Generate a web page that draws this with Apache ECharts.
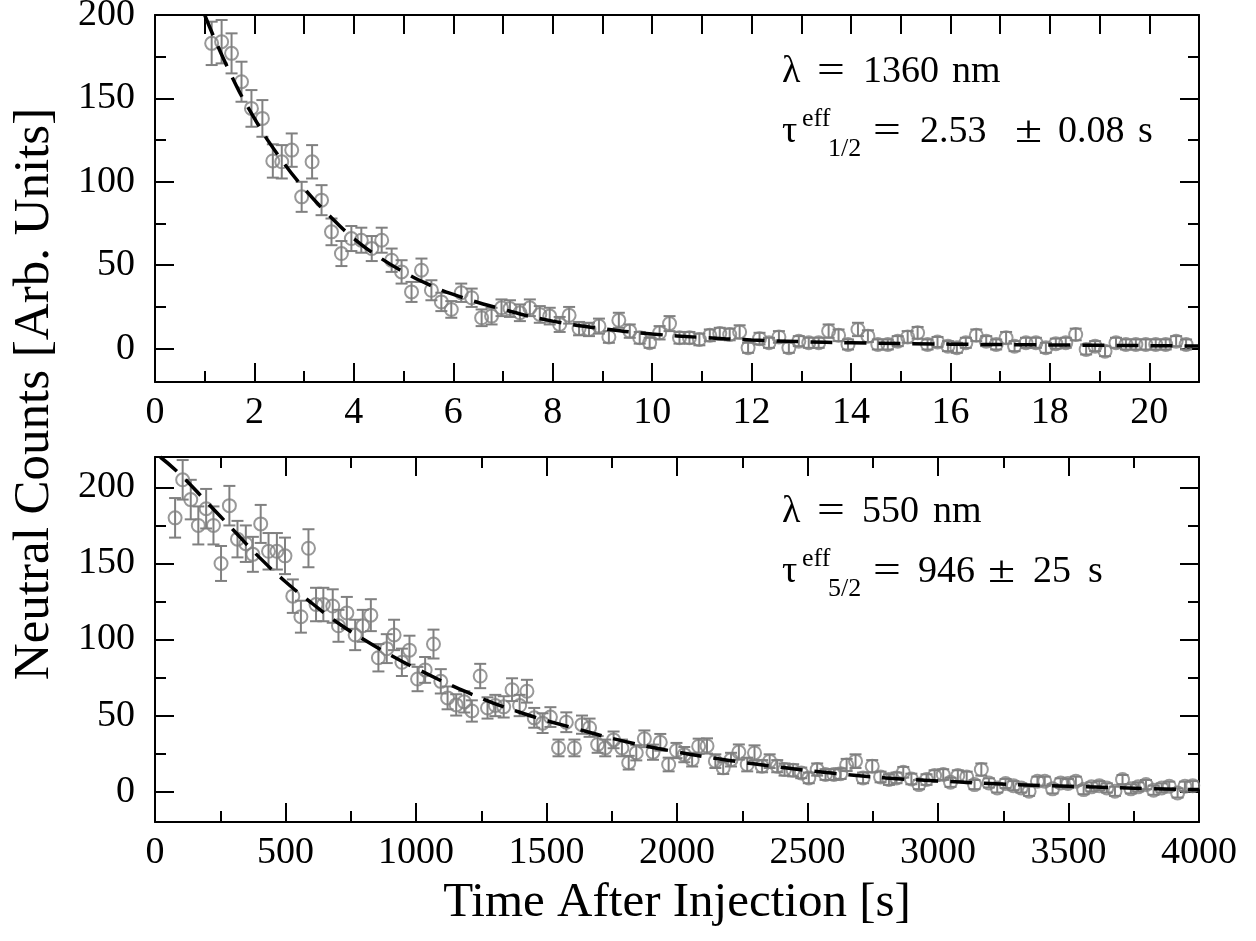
<!DOCTYPE html>
<html><head><meta charset="utf-8">
<script src="https://cdn.jsdelivr.net/npm/echarts@6/dist/echarts.min.js"></script>
<style>html,body{margin:0;padding:0;background:#fff}#c{width:1256px;height:941px}</style>
</head><body><div id="c"></div>
<script>
// ---------- Top panel (λ = 1360 nm) ----------
var topT = [1.14,1.34,1.54,1.74,1.94,2.16,2.37,2.55,2.75,2.95,
  3.16,3.35,3.55,3.75,3.95,4.15,4.36,4.56,4.76,4.96,
  5.16,5.36,5.56,5.76,5.96,6.16,6.37,6.57,6.77,6.97,
  7.14,7.34,7.54,7.74,7.94,8.14,8.33,8.53,8.73,8.93,
  9.13,9.33,9.55,9.75,9.95,10.15,10.35,10.55,10.75,10.95,
  11.16,11.36,11.56,11.76,11.93,12.16,12.35,12.55,12.75,12.95,
  13.15,13.35,13.55,13.75,13.94,14.14,14.34,14.54,14.74,14.94,
  15.14,15.34,15.54,15.74,15.95,16.13,16.31,16.52,16.72,16.92,
  17.12,17.29,17.52,17.72,17.92,18.12,18.32,18.52,18.73,18.91,
  19.11,19.33,19.53,19.73,19.93,20.13,20.33,20.54,20.74];
var topY = [183,184,177,160,144,138,112.5,112,119,91,
  112,89,70,57,66,65,60,65,53,46,
  34,47,35,28,23.5,33.5,30.5,18.5,19.5,24.5,
  24,21.5,24.5,20.5,19.5,14.5,20,12,11.5,13.5,
  7,17,10.5,6.5,3.5,9.5,15,6.5,6.5,5.5,
  8,9,8.5,10,0.5,6,3.5,7,0.5,4.5,
  3.5,3.5,10.5,8,2.5,11.5,7.5,2.5,2.5,4.5,
  7,9.5,2.5,4,1.5,0.5,3.5,8,4.5,2.5,
  6.5,1.5,3.5,3.5,0.5,3,3.5,8.5,-0.5,1.5,
  -1.5,3.5,2.5,2.5,2.5,2.5,2.5,4.5,2.5];
var topErr = [13,13,12,12,11,11,10,10,10,9,
  10,9,8,7.5,7.5,7.5,7.5,7.5,7,7,
  6,7,6,5.5,5,5.5,5.5,5,5,5,
  5,5,5,5,5,4.5,5,4,4,4.5,
  3.5,4.5,4,3.5,3,4,4.5,3.5,3.5,3.5,
  3.5,3.5,3.5,4,3,3.5,3,3.5,3,3,
  3,3,4,3.5,3,4,3.5,3,3,3,
  3.5,3.5,3,3,3,3,3,3.5,3,3,
  3.5,3,3,3,3,3,3,3.5,3,3,
  3,3,3,3,3,3,3,3,3];
var topFitT = [1.0,1.5,2,2.5,3,3.5,4,4.5,5,5.5,6,7,8,9,10,11,12,13,14,16,18,21];
var topFitY = [200,166,138,115,96,80,66,55,46,38.5,32.5,23.5,16.5,12,8.8,6.7,5.2,4.2,3.5,2.7,2.2,1.6];

// ---------- Bottom panel (λ = 550 nm) ----------
var botT = [77,106,137,166,196,224,253,285,316,348,375,405,435,467,498,528,559,588,617,645,
  681,703,735,767,796,827,856,888,916,946,975,1006,1035,1067,1095,1121,1154,1185,1214,1246,
  1274,1304,1336,1368,1397,1425,1453,1485,1515,1546,1576,1607,1636,1665,1696,1725,1757,1789,1815,1844,
  1875,1908,1936,1968,1998,2028,2058,2083,2115,2147,2177,2207,2237,2269,2297,2326,2355,2384,2412,2445,
  2476,2505,2537,2569,2601,2627,2650,2684,2713,2748,2780,2812,2841,2867,2898,2927,2956,2987,3020,3048,
  3076,3110,3140,3166,3195,3227,3259,3289,3319,3349,3381,3409,3439,3470,3498,3528,3558,3588,3618,3647,
  3678,3707,3739,3767,3797,3826,3857,3886,3918,3946,3976];
var botY = [180,205,192,175,186,175,150,188,166,163,156,176,158,158,155,128.5,115,160,123,123,
  122,109,117.5,103,109,116,88,94,103,85,93,74,80,97,72.5,61.6,57,59,53,76,
  55,56.6,55.7,67,56.6,66,48.5,45,49,28.7,45.6,28.7,44,42,31,28.7,34,28.7,19,25.5,
  34.7,25.9,32.4,17.8,27,24.3,21,29.8,30,20,15.6,21,26,17.8,25.4,16.7,20,16.7,14.5,14,
  12.3,9,14.5,11.2,11.2,11.8,17.5,20,9,16.7,9.6,7.9,9,12.7,8.3,4.6,7.9,10.5,11.2,6.1,
  10.5,9.6,4.6,14.5,5.7,2.4,5.3,3.9,2.4,0.2,6.8,6.8,1.8,5.7,5.3,6.8,1.3,3.1,3.9,2.4,
  0.2,7.9,1.8,3.1,4.6,0.9,2.4,3.5,-0.9,3.5,3.9];
var botErr = [13,13,13,12.5,13,12.5,11.5,13,12,12,11.5,12.5,12,12,12,11,10.5,12.5,11,11,
  11,10.5,10.5,10,10.5,10.5,9,9.5,10,9,9.5,8,8.5,9.5,8,7.5,7,7,7,8,
  7,7,7,7.5,7,7.5,6.5,6.5,6.5,5.5,6.5,5.5,6,6,5.5,5.5,5.5,5.5,4.5,5,
  5.5,5,5.5,4.5,5,5,4.5,5,5,4.5,4,4.5,5,4.5,5,4,4.5,4,4,4,
  3.5,3.5,4,3.5,3.5,3.5,4,4.5,3.5,4,3.5,3.5,3.5,3.5,3.5,3,3.5,3.5,3.5,3,
  3.5,3.5,3,4,3,3,3,3,3,3,3,3,3,3,3,3,3,3,3,3,
  3,3,3,3,3,3,3,3,3,3,3];
var botFitT = [20,100,200,300,400,500,600,700,800,900,1000,1200,1400,1600,1800,2000,2200,2400,2600,2800,3000,3200,3400,3600,3800,4000];
var botFitY = [220,208,190,172,154,138,124,111,100,90,81,65,52,42,33,26,20.5,16,12,9,7,5.3,4,3,2,1.3];

// ---------- Ticks ----------
var topXLabels = [0,2,4,6,8,10,12,14,16,18,20];
var topXMinor = [1,3,5,7,9,11,13,15,17,19,21];
var topXTopTicks = [1,2,3,4,5,6,7,8,9,10,11,12,13,14,15,16,17,18,19,20];
var topYLabels = [0,50,100,150,200];
var topYMinor = [25,75,125,175];
var botXLabels = [0,500,1000,1500,2000,2500,3000,3500,4000];
var botXMinor = [250,750,1250,1750,2250,2750,3250,3750];
var botYLabels = [0,50,100,150,200];
var botYMinor = [25,75,125,175];

var FONT = '"Liberation Serif", "Times New Roman", serif';
var GRAY = '#808080';

function pairs(a, b, c) {
  return a.map(function (v, i) { return c ? [v, b[i], c[i]] : [v, b[i]]; });
}

function mkAxis(g, pos, min, max, ticks, len, labels, showLine, margin) {
  return {
    type: 'value', gridIndex: g, position: pos, min: min, max: max,
    axisLine: { show: showLine, onZero: false, lineStyle: { color: '#000', width: 2 } },
    axisTick: { show: true, inside: true, length: len, customValues: ticks, lineStyle: { color: '#000', width: 2 } },
    axisLabel: labels ? { show: true, customValues: labels, margin: margin, color: '#000', fontFamily: FONT, fontSize: 38,
      formatter: function (v) { return String(v); } } : { show: false },
    splitLine: { show: false }, minorTick: { show: false }
  };
}

var xAxes = [
  mkAxis(0, 'bottom', 0, 21, topXLabels, 19, topXLabels, true, 12),
  mkAxis(0, 'bottom', 0, 21, topXMinor, 11, null, false),
  mkAxis(0, 'top', 0, 21, topXTopTicks, 19, null, true),
  mkAxis(1, 'bottom', 0, 4000, botXLabels, 19, botXLabels, true, 12),
  mkAxis(1, 'bottom', 0, 4000, botXMinor, 11, null, false),
  mkAxis(1, 'top', 0, 4000, botXLabels, 19, null, true),
  mkAxis(1, 'top', 0, 4000, botXMinor, 11, null, false)
];
var yAxes = [
  mkAxis(0, 'left', -20, 200, topYLabels, 19, topYLabels, true, 20),
  mkAxis(0, 'left', -20, 200, topYMinor, 11, null, false),
  mkAxis(0, 'right', -20, 200, topYLabels, 19, null, true),
  mkAxis(0, 'right', -20, 200, topYMinor, 11, null, false),
  mkAxis(1, 'left', -20, 220, botYLabels, 19, botYLabels, true, 20),
  mkAxis(1, 'left', -20, 220, botYMinor, 11, null, false),
  mkAxis(1, 'right', -20, 220, botYLabels, 19, null, true),
  mkAxis(1, 'right', -20, 220, botYMinor, 11, null, false)
];

function errRender(params, api) {
  var x = api.value(0), y = api.value(1), e = api.value(2);
  var p0 = api.coord([x, y - e]), p1 = api.coord([x, y + e]);
  var w = 6;
  var st = { stroke: GRAY, lineWidth: 2, fill: null };
  return { type: 'group', children: [
    { type: 'line', shape: { x1: p0[0], y1: p0[1], x2: p1[0], y2: p1[1] }, style: st },
    { type: 'line', shape: { x1: p0[0] - w, y1: p0[1], x2: p0[0] + w, y2: p0[1] }, style: st },
    { type: 'line', shape: { x1: p1[0] - w, y1: p1[1], x2: p1[0] + w, y2: p1[1] }, style: st }
  ] };
}

function panelSeries(xi, yi, t, y, e, ft, fy) {
  return [
    { type: 'custom', xAxisIndex: xi, yAxisIndex: yi, renderItem: errRender,
      data: pairs(t, y, e), encode: { x: 0, y: 1 }, z: 2, silent: true },
    { type: 'scatter', xAxisIndex: xi, yAxisIndex: yi, data: pairs(t, y),
      symbol: 'circle', symbolSize: 13,
      itemStyle: { color: 'rgba(0,0,0,0)', borderColor: GRAY, borderWidth: 2 }, z: 3, silent: true },
    { type: 'line', xAxisIndex: xi, yAxisIndex: yi, data: pairs(ft, fy), smooth: true, showSymbol: false,
      symbol: 'none', clip: true,
      lineStyle: { color: '#000', width: 3.5, type: [22, 12] }, z: 4, silent: true }
  ];
}

function txt(x, b, s, fs, sx) {
  return { type: 'text', x: x, y: b - 0.34 * fs, scaleX: sx || 1, silent: true,
    style: { text: s, font: fs + 'px ' + FONT, fill: '#000', textAlign: 'left', textVerticalAlign: 'middle', verticalAlign: 'middle' } };
}

var graphics = [
  // top annotation
  txt(782, 85, 'λ', 38), txt(817, 85, '=', 38, 1.3), txt(863, 85, '1360', 38), txt(952, 85, 'nm', 38),
  txt(782, 145, 'τ', 38), txt(802, 128, 'eff', 26), txt(828, 158, '1/2', 26),
  txt(873, 145, '=', 38, 1.3), txt(920, 145, '2.53', 38), txt(1015, 145, '±', 38, 1.3),
  txt(1058, 145, '0.08', 38), txt(1138, 145, 's', 38),
  // bottom annotation
  txt(782, 525, 'λ', 38), txt(817, 525, '=', 38, 1.3), txt(862, 525, '550', 38), txt(933, 525, 'nm', 38),
  txt(782, 585, 'τ', 38), txt(802, 568, 'eff', 26), txt(828, 598, '5/2', 26),
  txt(873, 585, '=', 38, 1.3), txt(918, 585, '946', 38), txt(988, 585, '±', 38, 1.3),
  txt(1033, 585, '25', 38), txt(1088, 585, 's', 38),
  // axis titles
  { type: 'text', x: 677, y: 903, silent: true,
    style: { text: 'Time After Injection [s]', font: '49px ' + FONT, fill: '#000', textAlign: 'center', textVerticalAlign: 'middle', verticalAlign: 'middle' } },
  { type: 'text', x: 35, y: 394, rotation: Math.PI / 2, silent: true,
    style: { text: 'Neutral Counts [Arb. Units]', font: '51px ' + FONT, fill: '#000', textAlign: 'center', textVerticalAlign: 'middle', verticalAlign: 'middle' } }
];

var chart = echarts.init(document.getElementById('c'), null, { renderer: 'canvas' });
chart.setOption({
  animation: false,
  backgroundColor: '#fff',
  grid: [
    { left: 155, right: 57, top: 15, height: 367, outerBoundsMode: 'none', containLabel: false },
    { left: 155, right: 57, top: 457, height: 365, outerBoundsMode: 'none', containLabel: false }
  ],
  xAxis: xAxes,
  yAxis: yAxes,
  series: panelSeries(0, 0, topT, topY, topErr, topFitT, topFitY)
    .concat(panelSeries(3, 4, botT, botY, botErr, botFitT, botFitY)),
  graphic: graphics
});
</script></body></html>
